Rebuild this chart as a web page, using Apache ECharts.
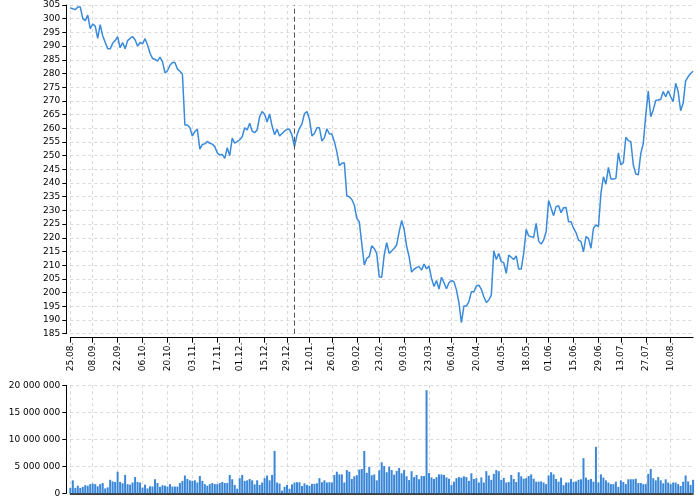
<!DOCTYPE html>
<html><head><meta charset="utf-8">
<script src="https://cdn.jsdelivr.net/npm/echarts@6/dist/echarts.min.js"></script>
<style>html,body{margin:0;padding:0;background:#fff}#c{width:700px;height:500px}</style>
</head><body><div id="c"></div>
<script>
const categories = [
'25.08.','26.08.','27.08.','28.08.','29.08.',
'02.09.','03.09.','04.09.','05.09.','08.09.','09.09.','10.09.','11.09.','12.09.','15.09.','16.09.','17.09.','18.09.','19.09.','22.09.','23.09.','24.09.','25.09.','26.09.','29.09.','30.09.',
'01.10.','02.10.','03.10.','06.10.','07.10.','08.10.','09.10.','10.10.','13.10.','14.10.','15.10.','16.10.','17.10.','20.10.','21.10.','22.10.','23.10.','24.10.','27.10.','28.10.','29.10.','30.10.','31.10.',
'03.11.','04.11.','05.11.','06.11.','07.11.','10.11.','11.11.','12.11.','13.11.','14.11.','17.11.','18.11.','19.11.','20.11.','21.11.','24.11.','25.11.','26.11.','28.11.',
'01.12.','02.12.','03.12.','04.12.','05.12.','08.12.','09.12.','10.12.','11.12.','12.12.','15.12.','16.12.','17.12.','18.12.','19.12.','22.12.','23.12.','24.12.','26.12.','29.12.','30.12.','31.12.',
'02.01.','05.01.','06.01.','07.01.','08.01.','09.01.','12.01.','13.01.','14.01.','15.01.','16.01.','20.01.','21.01.','22.01.','23.01.','26.01.','27.01.','28.01.','29.01.','30.01.',
'02.02.','03.02.','04.02.','05.02.','06.02.','09.02.','10.02.','11.02.','12.02.','13.02.','17.02.','18.02.','19.02.','20.02.','23.02.','24.02.','25.02.','26.02.','27.02.',
'02.03.','03.03.','04.03.','05.03.','06.03.','09.03.','10.03.','11.03.','12.03.','13.03.','16.03.','17.03.','18.03.','19.03.','20.03.','23.03.','24.03.','25.03.','26.03.','27.03.','30.03.','31.03.',
'01.04.','02.04.','06.04.','07.04.','08.04.','09.04.','10.04.','13.04.','14.04.','15.04.','16.04.','17.04.','20.04.','21.04.','22.04.','23.04.','24.04.','27.04.','28.04.','29.04.','30.04.',
'01.05.','04.05.','05.05.','06.05.','07.05.','08.05.','11.05.','12.05.','13.05.','14.05.','15.05.','18.05.','19.05.','20.05.','21.05.','22.05.','26.05.','27.05.','28.05.','29.05.',
'01.06.','02.06.','03.06.','04.06.','05.06.','08.06.','09.06.','10.06.','11.06.','12.06.','15.06.','16.06.','17.06.','18.06.','19.06.','22.06.','23.06.','24.06.','25.06.','26.06.','29.06.','30.06.',
'01.07.','02.07.','06.07.','07.07.','08.07.','09.07.','10.07.','13.07.','14.07.','15.07.','16.07.','17.07.','20.07.','21.07.','22.07.','23.07.','24.07.','27.07.','28.07.','29.07.','30.07.','31.07.',
'03.08.','04.08.','05.08.','06.08.','07.08.','10.08.','11.08.','12.08.','13.08.','14.08.','17.08.','18.08.','19.08.','20.08.','21.08.'
];

const tickLabels = ['25.08.','08.09.','22.09.','06.10.','20.10.','03.11.','17.11.','01.12.','15.12.','29.12.','12.01.','26.01.','09.02.','23.02.','09.03.','23.03.','06.04.','20.04.','04.05.','18.05.','01.06.','15.06.','29.06.','13.07.','27.07.','10.08.'];

const yearMarker = '02.01.';

const closePrices = [
303.9,303.6,303.3,304.3,304.3,300.0,299.3,301.3,296.4,298.0,
297.3,292.8,297.8,293.8,291.4,289.0,289.0,291.0,292.0,293.4,
289.4,291.3,289.0,292.0,292.8,293.5,292.3,290.0,291.3,290.8,
292.7,290.4,287.4,285.5,285.2,284.5,286.0,284.3,280.2,281.0,
283.0,284.0,284.0,281.6,280.8,279.8,261.2,261.2,260.2,257.2,
258.8,259.6,252.4,254.1,254.3,255.2,254.5,254.2,253.3,251.0,
250.2,250.5,249.0,252.9,250.0,256.4,254.6,255.1,255.8,256.9,
260.2,259.4,261.8,259.0,258.4,259.4,264.2,266.1,265.1,262.3,
265.2,260.8,257.7,259.6,257.2,258.1,259.0,259.6,259.6,257.4,
253.3,257.5,260.0,261.6,265.4,266.1,263.3,257.2,258.1,260.2,
260.2,255.3,256.6,259.8,257.9,257.9,255.1,251.4,246.4,247.2,
247.4,235.3,235.0,234.0,232.0,227.1,225.8,218.0,210.1,212.5,
213.1,217.1,216.1,214.3,205.8,205.6,213.7,218.2,214.3,215.2,
216.1,217.4,222.2,226.3,223.1,217.0,213.1,207.5,208.5,209.2,
209.5,208.2,210.4,208.7,209.7,205.2,202.2,204.4,201.3,205.6,
203.6,201.4,203.6,204.4,204.0,201.0,196.3,189.0,195.1,195.1,
196.7,200.3,200.3,202.4,202.7,201.2,198.5,196.4,197.3,199.1,
215.3,212.1,214.3,211.3,210.9,207.0,213.7,212.9,212.1,213.4,
208.6,208.6,214.3,223.1,220.7,220.4,220.2,225.3,218.8,217.7,
219.2,222.2,233.6,230.8,228.1,231.4,231.7,229.2,231.0,231.1,
225.9,225.9,223.5,221.9,219.2,218.6,214.9,220.4,219.8,216.2,
223.5,224.7,224.1,236.2,242.3,239.6,245.7,241.5,241.5,241.7,
251.0,246.6,247.4,256.7,255.5,255.1,246.6,243.3,243.0,250.8,
254.5,264.8,273.6,264.2,266.7,270.1,270.3,270.6,273.4,271.5,
273.7,271.5,269.7,276.4,273.4,266.4,269.1,277.3,278.8,280.0,
280.8
];

// volumes in millions of shares
const volumeMillions = [
1.0,2.4,1.0,1.4,1.0,1.2,1.5,1.4,1.7,1.8,
1.7,1.3,1.7,1.9,0.9,1.1,2.5,2.2,2.1,4.0,
2.1,1.85,3.4,1.7,1.6,2.0,3.0,2.1,2.0,1.05,
1.6,0.9,1.3,1.25,2.6,1.9,1.2,1.5,1.4,1.25,
1.7,1.25,1.25,1.25,1.9,2.3,3.3,2.65,2.4,2.3,
2.4,2.0,3.2,2.3,1.7,1.4,1.7,1.9,1.7,1.7,
1.9,2.1,1.9,1.9,
3.4,2.6,1.55,0.85,2.8,3.4,2.3,2.4,2.65,2.4,
1.65,2.4,1.55,2.0,2.8,3.3,2.4,3.4,7.85,2.0,
1.8,0.5,1.2,1.55,0.85,1.65,2.0,2.05,2.05,1.35,
1.85,1.55,1.4,1.75,1.75,1.85,2.8,2.05,2.4,2.0,
2.05,2.0,3.4,4.0,3.5,3.5,2.0,4.3,4.0,2.65,
3.15,3.35,4.4,4.5,7.85,3.8,4.9,3.35,3.5,2.4,
4.25,5.75,5.05,3.9,4.9,4.3,3.45,4.15,4.7,3.7,
4.3,3.15,2.45,4.1,3.0,3.4,2.6,3.2,3.2,19.1,
3.75,2.95,2.65,3.0,3.5,3.5,3.4,2.95,2.7,1.55,
2.15,2.8,3.0,
2.9,3.15,3.0,2.3,3.7,2.65,2.8,2.0,2.95,2.0,
4.1,3.3,2.5,3.6,4.3,4.1,2.5,2.85,2.0,2.1,
3.4,2.65,2.1,3.9,3.15,2.7,2.8,3.2,3.5,2.7,
2.15,2.15,2.2,2.0,1.7,3.3,3.9,3.5,2.65,2.15,
2.9,1.5,2.0,2.0,2.65,2.1,2.2,2.5,2.6,6.5,
2.9,2.5,2.65,2.15,8.6,2.0,3.5,2.9,2.4,2.0,
1.7,1.7,2.15,1.2,2.4,2.1,1.7,2.6,2.6,2.6,
2.7,1.9,1.9,1.7,1.7,3.6,4.5,2.8,2.4,3.0,
2.4,1.85,2.6,2.0,1.7,2.0,2.0,1.7,1.35,2.15,
3.3,2.2,1.55,2.5
];

const showSet = new Set(tickLabels);
const pick = (idx, val) => showSet.has(val);
const FONT = 'DejaVu Sans';
const gridLine = { show: true, lineStyle: { color: '#d9d9d9', type: [3, 3], width: 1 } };
const fmtSpace = v => String(Math.round(v)).replace(/\B(?=(\d{3})+(?!\d))/g, ' ');

const chart = echarts.init(document.getElementById('c'), null, { renderer: 'canvas' });
chart.setOption({
  animation: false,
  backgroundColor: '#fff',
  grid: [
    { left: 70.3, right: 6.9, top: 5, bottom: 166.3 },
    { left: 70.3, right: 6.9, top: 385.3, bottom: 6.7 }
  ],
  xAxis: [
    {
      type: 'category', gridIndex: 0, data: categories, boundaryGap: false, offset: 4,
      axisLine: { show: true, lineStyle: { color: '#000', width: 1 } },
      axisTick: { show: true, interval: pick, length: 5, lineStyle: { color: '#000' } },
      axisLabel: { interval: pick, rotate: 90, fontSize: 9, fontFamily: FONT, color: '#000', margin: 5 },
      splitLine: Object.assign({ interval: pick }, gridLine)
    },
    {
      type: 'category', gridIndex: 1, data: categories, boundaryGap: false,
      axisLine: { show: true, lineStyle: { color: '#000', width: 1.5 } },
      axisTick: { show: false },
      axisLabel: { show: false },
      splitLine: Object.assign({ interval: pick }, gridLine)
    }
  ],
  yAxis: [
    {
      type: 'value', gridIndex: 0, min: 185, max: 305, interval: 5, offset: 4,
      axisLine: { show: true, lineStyle: { color: '#000', width: 1 } },
      axisTick: { show: true, length: 4, lineStyle: { color: '#000' } },
      axisLabel: { fontSize: 9, fontFamily: FONT, color: '#000', margin: 6 },
      splitLine: gridLine
    },
    {
      type: 'value', gridIndex: 1, min: 0, max: 20000000, interval: 5000000, offset: 4,
      axisLine: { show: true, lineStyle: { color: '#000', width: 1 } },
      axisTick: { show: true, length: 4, lineStyle: { color: '#000' } },
      axisLabel: { fontSize: 9, fontFamily: FONT, color: '#000', margin: 6, formatter: fmtSpace },
      splitLine: gridLine
    }
  ],
  series: [
    {
      type: 'line', xAxisIndex: 0, yAxisIndex: 0, data: closePrices,
      showSymbol: false, symbol: 'none',
      lineStyle: { color: '#3a8adc', width: 1.5 },
      markLine: {
        silent: true, symbol: 'none', label: { show: false },
        lineStyle: { color: '#555', type: [5, 3], width: 1 },
        data: [{ xAxis: yearMarker }]
      }
    },
    {
      type: 'bar', xAxisIndex: 1, yAxisIndex: 1, clip: false,
      data: volumeMillions.map(v => v * 1000000),
      barWidth: 2,
      itemStyle: { color: '#3a87d8' }
    }
  ]
});
</script></body></html>
